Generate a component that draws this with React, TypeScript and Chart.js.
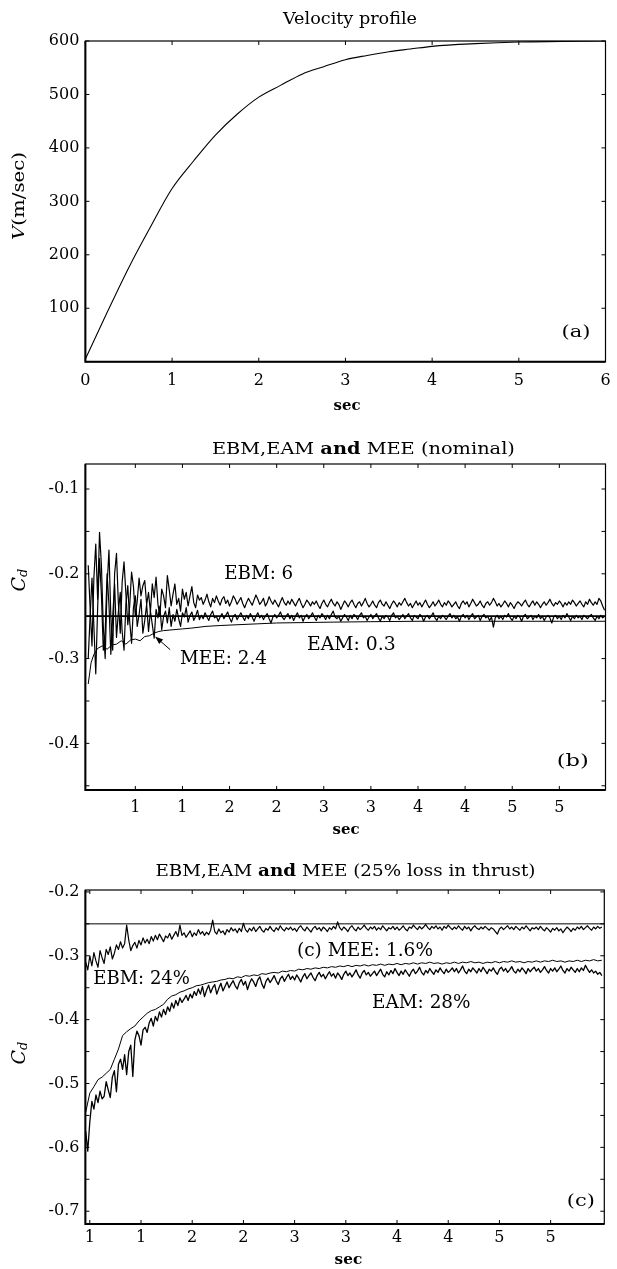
import React, { useEffect, useRef } from 'react';
import { Chart, registerables } from 'chart.js';

Chart.register(...registerables);

// ================= DATA =================
// (a) Velocity profile
const velocityTime = [0, 0.25, 0.5, 0.75, 1, 1.25, 1.5, 1.75, 2, 2.25, 2.5, 2.75, 3, 3.25, 3.5, 3.75, 4, 4.5, 5, 5.5, 6];
const velocityMs = [5, 92, 176, 252, 324, 376, 424, 463, 495, 517, 538, 552, 565, 573, 580, 585, 590, 595, 598, 599, 600];
const velocityXTicks = [0, 1, 2, 3, 4, 5, 6];
const velocityXTickLabels = ['0', '1', '2', '3', '4', '5', '6'];
const velocityYTicks = [0, 100, 200, 300, 400, 500, 600];
const velocityYTickLabels = ['', '100', '200', '300', '400', '500', '600'];

// (b) EBM, EAM and MEE (nominal) -- noisy estimates in thousandths of Cd
const nominalTrueCd = -0.25;
const nominalStartSec = 0;
const nominalStepSec = 0.02;
const ebmNominalMilli = [
  -190, -240, -285, -205, -165, -230, -151, -190, -262, -300, -215, -172, -250, -290, -200,
  -176, -235, -270, -210, -186, -224, -260, -238, -198, -215, -250, -232, -205, -226, -214,
  -208, -236, -222, -245, -212, -228, -204, -236, -250, -218, -226, -240, -202, -219, -238,
  -224, -212, -236, -229, -244, -218, -230, -222, -238, -226, -215, -234, -240, -225, -231,
  -228, -236, -231, -224, -233, -239, -229, -234, -226, -232,
  -237, -230, -227, -235, -231, -238, -233, -226, -230, -236,
  -232, -228, -235, -240, -234, -229, -233, -237, -231, -225,
  -230, -236, -233, -229, -238, -234, -227, -232, -236, -231,
  -235, -239, -233, -228, -234, -237, -232, -236, -230, -234,
  -238, -233, -229, -235, -240, -236, -231, -234, -238, -233,
  -236, -232, -237, -241, -235, -231, -236, -239, -234, -230,
  -235, -238, -233, -236, -242, -237, -232, -235, -239, -234,
  -231, -236, -240, -235, -233, -238, -234, -229, -235, -239,
  -236, -232, -237, -240, -234, -231, -236, -238, -233, -237,
  -241, -236, -232, -235, -239, -234, -237, -233, -229, -234,
  -238, -235, -240, -236, -232, -237, -234, -239, -235, -231,
  -236, -240, -237, -233, -238, -235, -231, -236, -239, -234,
  -237, -232, -235, -239, -236, -233, -238, -241, -235, -232,
  -236, -233, -239, -235, -230, -234, -238, -236, -232, -237,
  -240, -235, -233, -237, -234, -229, -233, -238, -235, -239,
  -236, -232, -235, -239, -234, -237, -241, -236, -233, -235,
  -238, -234, -231, -236, -239, -235, -232, -237, -233, -236,
  -240, -236, -233, -237, -234, -230, -235, -238, -234, -236,
  -232, -235, -239, -234, -237, -233, -236, -231, -234, -238,
  -235, -232, -236, -239, -233, -236, -230, -234, -237, -233,
  -236, -229, -232, -238, -243,
];
const eamNominalMilli = [
  -300, -250, -205, -262, -318, -240, -182, -225, -290, -268, -200, -236, -295, -250, -212,
  -275, -245, -222, -268, -290, -236, -214, -256, -282, -240, -226, -262, -248, -230, -270,
  -255, -236, -268, -244, -260, -276, -242, -252, -238, -266, -250, -244, -258, -240, -262,
  -248, -256, -242, -253, -262, -246, -251, -240, -257, -249, -245, -255, -250, -243, -254,
  -249, -253, -246, -251, -255, -248, -244, -252, -250, -256,
  -251, -247, -253, -249, -245, -252, -257, -250, -248, -254,
  -250, -246, -251, -255, -249, -253, -247, -251, -256, -250,
  -246, -252, -249, -254, -250, -247, -253, -258, -251, -248,
  -252, -249, -245, -251, -254, -250, -247, -253, -249, -255,
  -250, -246, -252, -249, -256, -251, -248, -253, -250, -246,
  -251, -255, -249, -252, -247, -250, -254, -249, -253, -248,
  -244, -251, -253, -250, -256, -252, -248, -251, -255, -249,
  -253, -248, -250, -254, -249, -246, -252, -250, -255, -251,
  -248, -253, -250, -247, -252, -256, -250, -253, -249, -251,
  -255, -249, -246, -252, -250, -254, -251, -248, -253, -250,
  -247, -252, -255, -249, -251, -253, -248, -250, -256, -251,
  -249, -253, -250, -246, -252, -255, -250, -253, -249, -251,
  -254, -250, -247, -252, -249, -253, -251, -256, -250, -248,
  -252, -249, -254, -250, -247, -253, -251, -249, -255, -250,
  -248, -252, -250, -255, -251, -263, -252, -249, -253, -250,
  -254, -249, -251, -247, -252, -255, -250, -253, -249, -251,
  -256, -250, -248, -253, -251, -249, -254, -250, -252, -248,
  -253, -250, -255, -251, -249, -252, -258, -251, -249, -253,
  -250, -254, -249, -252, -247, -251, -255, -250, -253, -249,
  -252, -250, -254, -249, -251, -253, -250, -248, -252, -255,
  -250, -253, -249, -252, -250,
];
const meeNominalTime = [
  0, 0.03, 0.06, 0.1, 0.15, 0.2, 0.25, 0.3, 0.35, 0.4,
  0.45, 0.5, 0.55, 0.6, 0.65, 0.7, 0.75, 0.8, 0.9, 1.0,
  1.1, 1.25, 1.4, 1.6, 1.8, 2.0, 2.3, 2.6, 3.0, 3.5,
  4.0, 4.5, 5.0, 5.49,
];
const meeNominal = [
  -0.33, -0.305, -0.295, -0.288, -0.285, -0.289, -0.284, -0.283, -0.279, -0.283,
  -0.278, -0.277, -0.279, -0.274, -0.273, -0.27, -0.268, -0.267, -0.266, -0.265,
  -0.264, -0.262, -0.261, -0.26, -0.259, -0.258, -0.2575, -0.257, -0.2565, -0.256,
  -0.256, -0.256, -0.256, -0.256,
];
const nominalXTicks = [0.5, 1, 1.5, 2, 2.5, 3, 3.5, 4, 4.5, 5];
const nominalXTickLabels = ['1', '1', '2', '2', '3', '3', '4', '4', '5', '5'];
const nominalYTicks = [-0.45, -0.4, -0.35, -0.3, -0.25, -0.2, -0.15, -0.1];
const nominalYTickLabels = ['', '-0.4', '', '-0.3', '', '-0.2', '', '-0.1'];
const meeArrowHead = { t: 0.71, v: -0.274 };
const meeArrowTail = { t: 0.87, v: -0.2895 };

// (c) EBM, EAM and MEE (25% loss in thrust)
const lossTrueCd = -0.25;
const lossStartSec = 0.46;
const lossStepSec = 0.02;
const lossEbmStepSec = 0.04;
const meeLossMilli = [
  -310, -322, -300, -316, -295, -308, -318, -292, -303, -312, -290, -298, -286, -305, -296, -283, -290, -278, -288, -281,
  -252, -275, -292, -284, -279, -288, -276, -283, -272, -280,
  -274, -281, -270, -277, -268, -275, -266, -272, -278, -269,
  -272, -265, -274, -268, -262, -270, -252, -268, -264, -271,
  -266, -261, -270, -264, -268, -259, -266, -262, -268, -263,
  -267, -260, -244, -262, -266, -258, -264, -261, -267, -259,
  -263, -256, -261, -258, -264, -257, -262, -249, -259, -263,
  -257, -261, -255, -262, -258, -254, -260, -263, -257, -260,
  -254, -259, -262, -256, -260, -253, -258, -261, -256, -259,
  -255, -260, -257, -262, -256, -253, -258, -261, -255, -259,
  -263, -257, -254, -259, -256, -261, -255, -258, -262, -256,
  -259, -254, -258, -247, -256, -260, -255, -258, -262, -256,
  -253, -258, -261, -255, -259, -256, -252, -257, -260, -255,
  -258, -254, -260, -256, -259, -253, -257, -261, -256, -258,
  -254, -259, -255, -260, -257, -253, -258, -261, -255, -257,
  -252, -256, -259, -254, -258, -255, -251, -256, -259, -254,
  -257, -253, -258, -255, -260, -254, -257, -252, -256, -259,
  -255, -258, -253, -257, -260, -254, -258, -255, -261, -256,
  -253, -257, -259, -255, -258, -254, -257, -260, -256, -258,
  -262, -266, -258, -255, -259, -256, -253, -258, -255, -259,
  -254, -257, -260, -255, -258, -253, -257, -261, -256, -258,
  -255, -259, -254, -258, -261, -256, -259, -263, -257, -260,
  -256, -261, -258, -264, -259, -255, -258, -262, -257, -260,
  -255, -258, -254, -259, -256, -253, -257, -260, -255, -258,
  -254, -257, -255,
];
const ebmLoss = [
  -0.545, -0.515, -0.505, -0.494, -0.49, -0.484, -0.478, -0.462, -0.446, -0.425,
  -0.419, -0.414, -0.41, -0.402, -0.396, -0.39, -0.386, -0.384, -0.38, -0.376,
  -0.368, -0.363, -0.361, -0.357, -0.355, -0.352, -0.35, -0.347, -0.346, -0.344,
  -0.342, -0.341, -0.34, -0.338, -0.337, -0.335, -0.336, -0.333, -0.334, -0.331,
  -0.332, -0.33, -0.331, -0.328, -0.329, -0.327, -0.326, -0.327, -0.324, -0.325,
  -0.323, -0.324, -0.321, -0.322, -0.32, -0.321, -0.319, -0.32, -0.318, -0.319,
  -0.317, -0.318, -0.316, -0.317, -0.315, -0.317, -0.315, -0.316, -0.314, -0.316,
  -0.314, -0.315, -0.313, -0.315, -0.313, -0.314, -0.312, -0.314, -0.312, -0.313,
  -0.311, -0.313, -0.311, -0.312, -0.31, -0.312, -0.311, -0.313, -0.311, -0.312,
  -0.31, -0.312, -0.31, -0.311, -0.309, -0.311, -0.31, -0.312, -0.31, -0.311,
  -0.309, -0.311, -0.309, -0.31, -0.308, -0.31, -0.309, -0.311, -0.309, -0.31,
  -0.308, -0.31, -0.308, -0.309, -0.307, -0.309, -0.308, -0.31, -0.308, -0.309,
  -0.307, -0.309, -0.307, -0.308, -0.306, -0.308, -0.307,
];
const eamLossMilli = [
  -575, -606, -560, -528, -540, -518, -530, -512, -524, -520,
  -497, -510, -522, -490, -480, -513, -470, -462, -478, -455,
  -486, -450, -440, -489, -432, -418, -425, -440, -416, -412,
  -420, -405, -398, -410, -395, -402, -388, -396, -384, -392,
  -380, -387, -374, -382, -370, -378, -366, -373, -368, -362,
  -370, -360, -366, -356, -362, -352, -360, -348, -364, -354,
  -346, -358, -350, -345, -360, -351, -343, -355, -348, -341,
  -350, -344, -339, -347, -352, -342, -337, -346, -340, -353,
  -343, -336, -341, -348, -338, -333, -344, -351, -340, -335,
  -342, -337, -331, -339, -345, -336, -332, -340, -334, -329,
  -337, -332, -338, -330, -335, -341, -333, -328, -336, -331,
  -327, -334, -339, -331, -326, -333, -329, -336, -330, -325,
  -332, -328, -335, -327, -331, -337, -329, -324, -331, -327,
  -333, -328, -322, -330, -335, -327, -323, -330, -326, -332,
  -328, -324, -331, -326, -321, -329, -333, -325, -330, -323,
  -328, -320, -326, -331, -324, -329, -322, -327, -332, -325,
  -321, -328, -324, -318, -326, -330, -323, -327, -320, -325,
  -329, -322, -326, -319, -324, -328, -321, -326, -323, -319,
  -325, -320, -327, -322, -316, -324, -328, -321, -325, -319,
  -323, -327, -320, -325, -318, -323, -328, -321, -324, -319,
  -325, -329, -321, -318, -324, -320, -326, -322, -317, -324,
  -327, -321, -325, -319, -323, -328, -320, -325, -321, -318,
  -324, -320, -326, -322, -317, -323, -327, -320, -324, -319,
  -325, -321, -316, -323, -327, -320, -324, -318, -322, -326,
  -320, -325, -319, -323, -315, -321, -326, -322, -327, -324,
  -329, -326, -331,
];
const lossXTicks = [0.5, 1, 1.5, 2, 2.5, 3, 3.5, 4, 4.5, 5];
const lossXTickLabels = ['1', '1', '2', '2', '3', '3', '4', '4', '5', '5'];
const lossYTicks = [-0.7, -0.65, -0.6, -0.55, -0.5, -0.45, -0.4, -0.35, -0.3, -0.25, -0.2];
const lossYTickLabels = ['-0.7', '', '-0.6', '', '-0.5', '', '-0.4', '', '-0.3', '', '-0.2'];

// ================= HELPERS =================
const SERIF = '"DejaVu Serif"';
const F = (s: number) => `${s}px ${SERIF}`;
const FB = (s: number) => `bold ${s}px ${SERIF}`;
const FI = (s: number) => `italic ${s}px ${SERIF}`;

type Seg = { t: string; f: string; dy?: number };

function drawRich(ctx: CanvasRenderingContext2D, segs: Seg[], cx: number, cy: number, width: number, rotate = 0) {
  ctx.save();
  ctx.translate(cx, cy);
  if (rotate) ctx.rotate(rotate);
  let total = 0;
  const ws = segs.map((s) => {
    ctx.font = s.f;
    const w = ctx.measureText(s.t).width;
    total += w;
    return w;
  });
  if (width > 0) ctx.scale(width / total, 1);
  let x = -total / 2;
  ctx.textBaseline = 'middle';
  ctx.textAlign = 'left';
  ctx.fillStyle = '#000';
  segs.forEach((s, i) => {
    ctx.font = s.f;
    ctx.fillText(s.t, x, s.dy || 0);
    x += ws[i];
  });
  ctx.restore();
}

const fromMilli = (vals: number[]) => vals.map((v) => v / 1000);
const series = (t0: number, dt: number, vals: number[]) =>
  vals.map((v, i) => ({ x: +(t0 + i * dt).toFixed(3), y: v }));
const paired = (ts: number[], vs: number[]) => ts.map((t, i) => ({ x: t, y: vs[i] }));
const line = (data: any[], width: number, extra: any = {}) => ({
  data,
  borderColor: '#000',
  borderWidth: width,
  pointRadius: 0,
  tension: 0,
  borderJoinStyle: 'round',
  fill: false,
  ...extra,
});

type PanelSpec = {
  width: number;
  height: number;
  area: { left: number; top: number; right: number; bottom: number };
  xMin: number; xMax: number; xTicks: number[]; xLabels: string[]; xPad: number;
  yMin: number; yMax: number; yTicks: number[]; yLabels: string[]; yPad: number;
  datasets: any[];
  decorate: (ctx: CanvasRenderingContext2D, chart: any) => void;
};

const tickFont = { family: 'DejaVu Serif', size: 16 };

function buildChart(canvas: HTMLCanvasElement, spec: PanelSpec) {
  const deco = {
    id: 'deco',
    afterDraw(chart: any) {
      const ctx: CanvasRenderingContext2D = chart.ctx;
      const { left, top, right, bottom } = chart.chartArea;
      const xs = chart.scales.x;
      const ys = chart.scales.y;
      ctx.save();
      ctx.strokeStyle = '#000';
      ctx.lineWidth = 1;
      ctx.beginPath();
      spec.xTicks.forEach((v) => {
        const px = xs.getPixelForValue(v);
        ctx.moveTo(px, bottom); ctx.lineTo(px, bottom - 4);
        ctx.moveTo(px, top); ctx.lineTo(px, top + 4);
      });
      spec.yTicks.forEach((v) => {
        const py = ys.getPixelForValue(v);
        ctx.moveTo(left, py); ctx.lineTo(left + 4, py);
        ctx.moveTo(right, py); ctx.lineTo(right - 4, py);
      });
      ctx.stroke();
      ctx.lineWidth = 1.2;
      ctx.strokeRect(left, top, right - left, bottom - top);
      ctx.lineWidth = 2;
      ctx.beginPath();
      ctx.moveTo(left, top); ctx.lineTo(left, bottom); ctx.lineTo(right, bottom);
      ctx.stroke();
      ctx.restore();
      spec.decorate(ctx, chart);
    },
  };
  return new Chart(canvas, {
    type: 'line',
    data: { datasets: spec.datasets },
    options: {
      animation: false,
      responsive: false,
      devicePixelRatio: 1,
      events: [],
      layout: { padding: { left: 0, top: spec.area.top, right: spec.width - spec.area.right, bottom: 0 } },
      plugins: { legend: { display: false }, tooltip: { enabled: false }, title: { display: false } },
      scales: {
        x: {
          type: 'linear',
          min: spec.xMin,
          max: spec.xMax,
          grid: { display: false, drawTicks: false },
          border: { display: false },
          afterBuildTicks: (s: any) => { s.ticks = spec.xTicks.map((v) => ({ value: v })); },
          afterFit: (s: any) => { s.height = spec.height - spec.area.bottom; s.paddingLeft = 0; s.paddingRight = 0; },
          ticks: {
            autoSkip: false, maxRotation: 0, minRotation: 0, padding: spec.xPad,
            font: tickFont, color: '#000',
            callback: (_v: any, i: number) => spec.xLabels[i],
          },
        },
        y: {
          type: 'linear',
          min: spec.yMin,
          max: spec.yMax,
          grid: { display: false, drawTicks: false },
          border: { display: false },
          afterBuildTicks: (s: any) => { s.ticks = spec.yTicks.map((v) => ({ value: v })); },
          afterFit: (s: any) => { s.width = spec.area.left; s.paddingTop = 0; s.paddingBottom = 0; },
          ticks: {
            autoSkip: false, padding: spec.yPad,
            font: tickFont, color: '#000',
            callback: (_v: any, i: number) => spec.yLabels[i],
          },
        },
      },
    } as any,
    plugins: [deco],
  } as any);
}

function drawCd(ctx: CanvasRenderingContext2D, cx: number, cy: number) {
  drawRich(ctx, [{ t: 'C', f: FI(19) }, { t: 'd', f: FI(13), dy: 4 }], cx, cy, 0, -Math.PI / 2);
}

// ================= PANELS =================
const specA: PanelSpec = {
  width: 617,
  height: 420,
  area: { left: 85.4, top: 41, right: 605.5, bottom: 361.7 },
  xMin: 0, xMax: 6, xTicks: velocityXTicks, xLabels: velocityXTickLabels, xPad: 9.4,
  yMin: 0, yMax: 600, yTicks: velocityYTicks, yLabels: velocityYTickLabels, yPad: 6,
  datasets: [line(paired(velocityTime, velocityMs), 1.1, { cubicInterpolationMode: 'monotone' })],
  decorate: (ctx) => {
    drawRich(ctx, [{ t: 'Velocity profile', f: F(16) }], 350, 19.5, 134);
    drawRich(ctx, [{ t: 'sec', f: FB(15) }], 347, 406.5, 27);
    drawRich(ctx, [{ t: 'V', f: FI(17) }, { t: '(m/sec)', f: F(17) }], 20, 196, 88, -Math.PI / 2);
    drawRich(ctx, [{ t: '(a)', f: F(16) }], 576, 333, 29);
  },
};

const specB: PanelSpec = {
  width: 617,
  height: 420,
  area: { left: 85.4, top: 44, right: 605.5, bottom: 370 },
  xMin: -0.03, xMax: 5.49, xTicks: nominalXTicks, xLabels: nominalXTickLabels, xPad: 8.1,
  yMin: -0.455, yMax: -0.0705, yTicks: nominalYTicks, yLabels: nominalYTickLabels, yPad: 6,
  datasets: [
    line([{ x: -0.03, y: nominalTrueCd }, { x: 5.49, y: nominalTrueCd }], 1.8),
    line(paired(meeNominalTime, meeNominal), 1),
    line(series(nominalStartSec, nominalStepSec, fromMilli(eamNominalMilli)), 1.2),
    line(series(nominalStartSec, nominalStepSec, fromMilli(ebmNominalMilli)), 1.2),
  ],
  decorate: (ctx, chart) => {
    drawRich(ctx, [{ t: 'EBM,EAM ', f: F(17) }, { t: 'and', f: FB(17) }, { t: ' MEE (nominal)', f: F(17) }], 363.4, 29.3, 303);
    drawRich(ctx, [{ t: 'sec', f: FB(15) }], 346, 410, 27);
    drawCd(ctx, 20, 160);
    drawRich(ctx, [{ t: 'EBM: 6', f: F(18) }], 258.7, 154, 69);
    drawRich(ctx, [{ t: 'EAM: 0.3', f: F(18) }], 351.4, 225, 88.7);
    drawRich(ctx, [{ t: 'MEE: 2.4', f: F(18) }], 223.5, 239.3, 87);
    drawRich(ctx, [{ t: '(b)', f: F(16) }], 572.8, 341.7, 32);
    const xs = chart.scales.x;
    const ys = chart.scales.y;
    const hx = xs.getPixelForValue(meeArrowHead.t);
    const hy = ys.getPixelForValue(meeArrowHead.v);
    const tx = xs.getPixelForValue(meeArrowTail.t);
    const ty = ys.getPixelForValue(meeArrowTail.v);
    const ang = Math.atan2(hy - ty, hx - tx);
    ctx.save();
    ctx.strokeStyle = '#000';
    ctx.fillStyle = '#000';
    ctx.lineWidth = 1;
    ctx.beginPath();
    ctx.moveTo(tx, ty);
    ctx.lineTo(hx - 6 * Math.cos(ang), hy - 6 * Math.sin(ang));
    ctx.stroke();
    ctx.beginPath();
    ctx.moveTo(hx, hy);
    ctx.lineTo(hx - 8 * Math.cos(ang) + 3 * Math.sin(ang), hy - 8 * Math.sin(ang) - 3 * Math.cos(ang));
    ctx.lineTo(hx - 8 * Math.cos(ang) - 3 * Math.sin(ang), hy - 8 * Math.sin(ang) + 3 * Math.cos(ang));
    ctx.closePath();
    ctx.fill();
    ctx.restore();
  },
};

const specC: PanelSpec = {
  width: 617,
  height: 429,
  area: { left: 85.4, top: 50, right: 604.3, bottom: 384 },
  xMin: 0.457, xMax: 5.524, xTicks: lossXTicks, xLabels: lossXTickLabels, xPad: 4.7,
  yMin: -0.72, yMax: -0.197, yTicks: lossYTicks, yLabels: lossYTickLabels, yPad: 6,
  datasets: [
    line([{ x: 0.457, y: lossTrueCd }, { x: 5.524, y: lossTrueCd }], 1),
    line(series(lossStartSec, lossStepSec, fromMilli(meeLossMilli)), 1.2),
    line(series(lossStartSec, lossEbmStepSec, ebmLoss), 1),
    line(series(lossStartSec, lossStepSec, fromMilli(eamLossMilli)), 1.3),
  ],
  decorate: (ctx) => {
    drawRich(ctx, [{ t: 'EBM,EAM ', f: F(17) }, { t: 'and', f: FB(17) }, { t: ' MEE (25% loss in thrust)', f: F(17) }], 345.5, 31.7, 380);
    drawRich(ctx, [{ t: 'sec', f: FB(15) }], 348.4, 420, 27.6);
    drawCd(ctx, 20, 213);
    drawRich(ctx, [{ t: '(c) MEE: 1.6%', f: F(18) }], 365, 111.7, 136);
    drawRich(ctx, [{ t: 'EBM: 24%', f: F(18) }], 141.6, 139, 96.7);
    drawRich(ctx, [{ t: 'EAM: 28%', f: F(18) }], 421.3, 163.3, 98.5);
    drawRich(ctx, [{ t: '(c)', f: F(16) }], 580.8, 361.7, 28);
  },
};

function Panel({ spec, top }: { spec: PanelSpec; top: number }) {
  const ref = useRef<HTMLCanvasElement>(null);
  useEffect(() => {
    if (!ref.current) return;
    const chart = buildChart(ref.current, spec);
    return () => chart.destroy();
  }, [spec]);
  return (
    <canvas
      ref={ref}
      width={spec.width}
      height={spec.height}
      style={{ position: 'absolute', left: 0, top, width: spec.width, height: spec.height, display: 'block' }}
    />
  );
}

export default function App() {
  return (
    <div style={{ position: 'absolute', left: 0, top: 0, width: 617, height: 1269, background: '#fff', overflow: 'hidden' }}>
      <Panel spec={specA} top={0} />
      <Panel spec={specB} top={420} />
      <Panel spec={specC} top={840} />
    </div>
  );
}
